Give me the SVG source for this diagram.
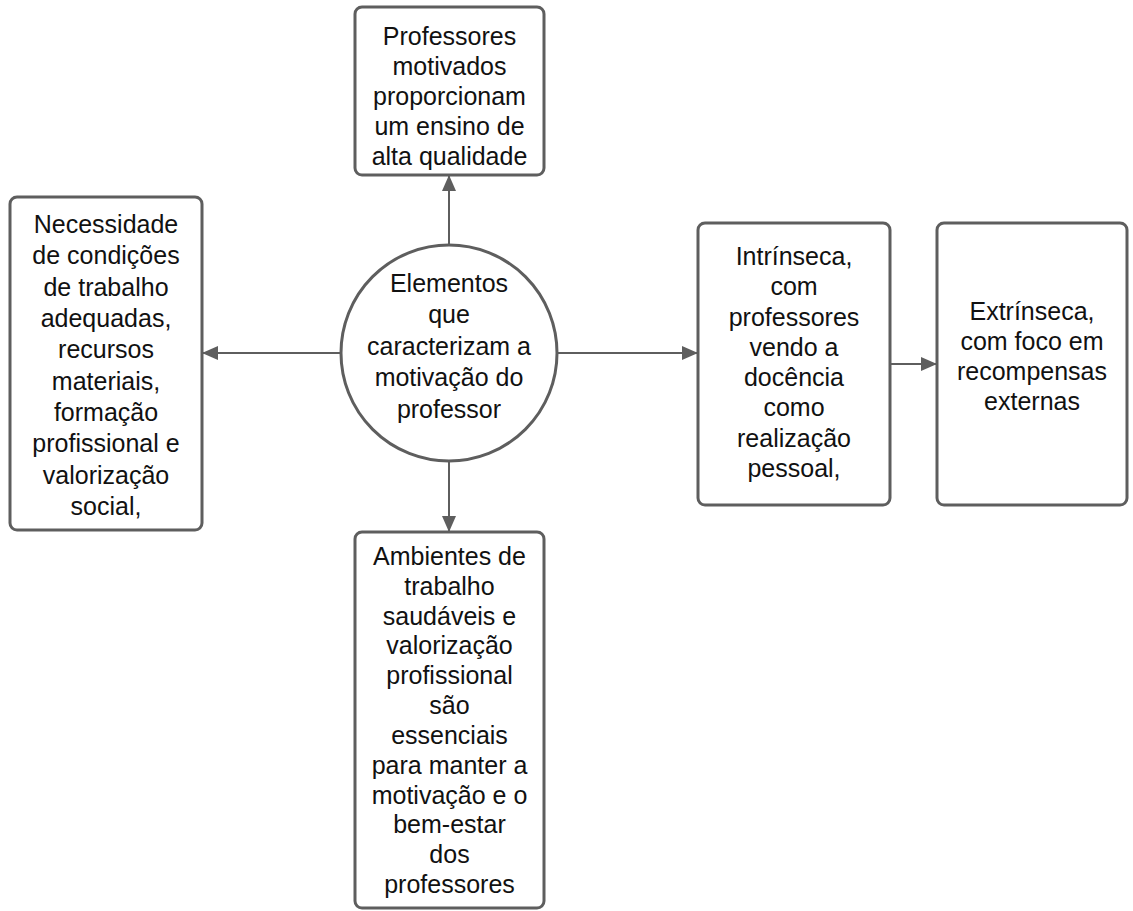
<svg xmlns="http://www.w3.org/2000/svg" width="1133" height="911" viewBox="0 0 1133 911">
<style>
.box{fill:#fff;stroke:#5e5e5e;stroke-width:3}
.t{font-family:"Liberation Sans",Arial,sans-serif;font-size:25px;fill:#111;text-anchor:middle}
.c{fill:none;stroke:#5e5e5e;stroke-width:2}
</style>
<defs>
<marker id="ah" markerWidth="16" markerHeight="14" refX="15" refY="7" orient="auto" markerUnits="userSpaceOnUse">
<path d="M0,0 L16,7 L0,14 Z" fill="#5e5e5e"/>
</marker>
</defs>
<rect width="1133" height="911" fill="#fff"/>
<g id="connectors">
<line class="c" x1="449" y1="245" x2="449" y2="176" marker-end="url(#ah)"/>
<line class="c" x1="341" y1="353" x2="203" y2="353" marker-end="url(#ah)"/>
<line class="c" x1="557" y1="353" x2="697" y2="353" marker-end="url(#ah)"/>
<line class="c" x1="449" y1="461" x2="449" y2="531" marker-end="url(#ah)"/>
<line class="c" x1="890" y1="364" x2="936" y2="364" marker-end="url(#ah)"/>
</g>
<g id="top">
<rect class="box" x="355" y="7" width="189" height="168" rx="7"/>
<text class="t"><tspan x="449.5" y="45">Professores</tspan><tspan x="449.5" y="75">motivados</tspan><tspan x="449.5" y="105">proporcionam</tspan><tspan x="449.5" y="135">um ensino de</tspan><tspan x="449.5" y="165">alta qualidade</tspan></text>
</g>
<g id="left">
<rect class="box" x="10" y="197" width="192" height="333" rx="7"/>
<text class="t"><tspan x="106" y="233">Necessidade</tspan><tspan x="106" y="264">de condições</tspan><tspan x="106" y="296">de trabalho</tspan><tspan x="106" y="327">adequadas,</tspan><tspan x="106" y="358">recursos</tspan><tspan x="106" y="390">materiais,</tspan><tspan x="106" y="421">formação</tspan><tspan x="106" y="452">profissional e</tspan><tspan x="106" y="484">valorização</tspan><tspan x="106" y="515">social,</tspan></text>
</g>
<g id="center">
<circle class="box" cx="449" cy="353" r="108"/>
<text class="t"><tspan x="449" y="292">Elementos</tspan><tspan x="449" y="323">que</tspan><tspan x="449" y="355">caracterizam a</tspan><tspan x="449" y="386">motivação do</tspan><tspan x="449" y="418">professor</tspan></text>
</g>
<g id="intrinseca">
<rect class="box" x="698" y="223" width="192" height="282" rx="7"/>
<text class="t"><tspan x="794" y="265">Intrínseca,</tspan><tspan x="794" y="295">com</tspan><tspan x="794" y="326">professores</tspan><tspan x="794" y="356">vendo a</tspan><tspan x="794" y="386">docência</tspan><tspan x="794" y="416">como</tspan><tspan x="794" y="447">realização</tspan><tspan x="794" y="477">pessoal,</tspan></text>
</g>
<g id="extrinseca">
<rect class="box" x="937" y="223" width="190" height="282" rx="7"/>
<text class="t"><tspan x="1032" y="320">Extrínseca,</tspan><tspan x="1032" y="350">com foco em</tspan><tspan x="1032" y="380">recompensas</tspan><tspan x="1032" y="410">externas</tspan></text>
</g>
<g id="bottom">
<rect class="box" x="355" y="532" width="189" height="376" rx="7"/>
<text class="t"><tspan x="449.5" y="565">Ambientes de</tspan><tspan x="449.5" y="595">trabalho</tspan><tspan x="449.5" y="625">saudáveis e</tspan><tspan x="449.5" y="654">valorização</tspan><tspan x="449.5" y="684">profissional</tspan><tspan x="449.5" y="714">são</tspan><tspan x="449.5" y="744">essenciais</tspan><tspan x="449.5" y="774">para manter a</tspan><tspan x="449.5" y="804">motivação e o</tspan><tspan x="449.5" y="833">bem-estar</tspan><tspan x="449.5" y="863">dos</tspan><tspan x="449.5" y="893">professores</tspan></text>
</g>
</svg>
